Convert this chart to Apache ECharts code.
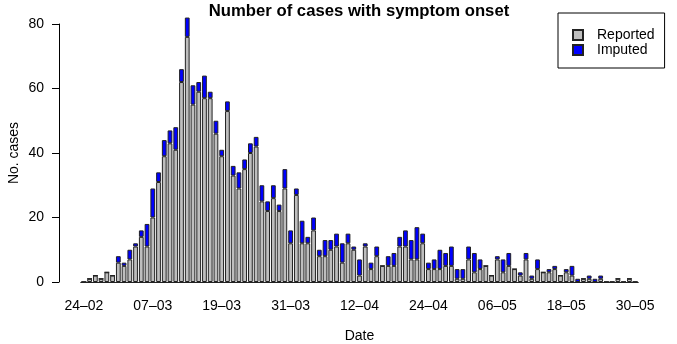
<!DOCTYPE html>
<html>
<head>
<meta charset="utf-8">
<script src="https://cdn.jsdelivr.net/npm/echarts@6/dist/echarts.min.js"></script>
<style>
  html, body { margin: 0; padding: 0; background: #fff; }
  #chart { width: 677px; height: 344px; }
</style>
</head>
<body>
<div id="chart"></div>
<script>
// dates 24-02 .. 30-05 (2020), one bar per day
const startDate = new Date(2020, 1, 24);
const dayCount = 97;
const dates = [];
for (let i = 0; i < dayCount; i++) {
    const d = new Date(startDate.getTime() + i * 86400000);
    dates.push(String(d.getDate()).padStart(2, '0') + '-' + String(d.getMonth() + 1).padStart(2, '0'));
}

// reported cases per day
const reported = [
    0, 1, 2, 1, 3, 2, 6, 5, 7, 11,
    14, 11, 20, 31, 39, 43, 41, 62, 76, 55,
    59, 57, 57, 46, 39, 53, 33, 29, 35, 40,
    42, 25, 22, 26, 22, 29, 12, 27, 12, 12,
    16, 8, 8, 10, 11, 6, 12, 10, 2, 11,
    4, 8, 5, 5, 5, 11, 11, 7, 7, 12,
    4, 4, 4, 5, 5, 1, 1, 7, 3, 4,
    5, 2, 7, 3, 5, 4, 2, 7, 1, 4,
    3, 3, 4, 2, 3, 2, 0, 1, 1, 0,
    1, 0, 0, 1, 0, 1, 0
];

// imputed cases per day (stacked on top)
const imputed = [
    0, 0, 0, 0, 0, 0, 2, 1, 3, 1,
    2, 7, 9, 3, 5, 4, 7, 4, 6, 6,
    3, 7, 2, 4, 2, 3, 3, 5, 3, 3,
    3, 5, 3, 4, 2, 6, 4, 2, 7, 2,
    4, 2, 5, 3, 4, 6, 3, 1, 5, 1,
    2, 3, 0, 3, 4, 3, 5, 6, 10, 3,
    2, 3, 6, 4, 6, 3, 3, 4, 6, 3,
    0, 0, 1, 4, 4, 0, 1, 2, 1, 3,
    0, 1, 1, 0, 1, 3, 1, 0, 1, 1,
    1, 0, 0, 0, 0, 0, 0
];

const yTicks = [0, 20, 40, 60, 80];

const fontFamily = 'Liberation Sans, Arial, sans-serif';

const myChart = echarts.init(document.getElementById('chart'), null, { renderer: 'canvas' });

const option = {
    animation: false,
    backgroundColor: '#fff',
    textStyle: { fontFamily: fontFamily, color: '#000' },
    title: {
        text: 'Number of cases with symptom onset',
        left: 359,
        textAlign: 'center',
        top: 3,
        padding: 0,
        textStyle: { fontSize: 16.7, fontWeight: 'bold', color: '#000', fontFamily: fontFamily }
    },
    legend: {
        orient: 'vertical',
        left: 558,
        top: 13,
        padding: [15, 10, 11, 14],
        itemGap: 1,
        itemWidth: 10,
        itemHeight: 10,
        borderColor: '#000',
        borderWidth: 1,
        borderRadius: 0,
        textStyle: { fontSize: 14, color: '#000', fontFamily: fontFamily, padding: [0, 0, 0, 9] },
        data: [
            { name: 'Reported', icon: 'rect' },
            { name: 'Imputed', icon: 'rect' }
        ]
    },
    grid: {
        left: 81,
        right: 39,
        top: 24,
        bottom: 62,
        outerBoundsMode: 'none'
    },
    xAxis: [
        {
            type: 'category',
            data: dates,
            position: 'bottom',
            offset: 12,
            name: 'Date',
            nameLocation: 'middle',
            nameGap: 35,
            nameMoveOverlap: false,
            nameTextStyle: { fontSize: 14, color: '#000' },
            axisLine: { lineStyle: { color: '#000', width: 1 } },
            axisTick: {
                alignWithLabel: true,
                interval: 5,
                length: 6,
                lineStyle: { color: '#000' }
            },
            axisLabel: {
                interval: 11,
                margin: 5,
                fontSize: 14,
                color: '#000',
                formatter: (v) => v.replace('-', '\u2013')
            },
            splitLine: { show: false }
        },
        {
            // zero line under the bars
            type: 'category',
            data: dates,
            position: 'bottom',
            offset: 0,
            axisLine: { lineStyle: { color: '#222', width: 1 } },
            axisTick: { show: false },
            axisLabel: { show: false },
            splitLine: { show: false }
        }
    ],
    yAxis: {
        type: 'value',
        min: yTicks[0],
        max: yTicks[yTicks.length - 1],
        interval: 20,
        offset: 22,
        name: 'No. cases',
        nameLocation: 'middle',
        nameRotate: 90,
        nameGap: 38,
        nameMoveOverlap: false,
        nameTextStyle: { fontSize: 14, color: '#000' },
        axisLine: { show: true, lineStyle: { color: '#000', width: 1 } },
        axisTick: { show: true, length: 7, lineStyle: { color: '#000' } },
        axisLabel: { fontSize: 14, color: '#000', margin: 15 },
        splitLine: { show: false }
    },
    series: [
        {
            name: 'Reported',
            type: 'bar',
            stack: 'cases',
            data: reported,
            barCategoryGap: '17%',
            clip: false,
            itemStyle: { color: '#bebebe', borderColor: '#222', borderWidth: 1 }
        },
        {
            name: 'Imputed',
            type: 'bar',
            stack: 'cases',
            data: imputed,
            barCategoryGap: '17%',
            clip: false,
            itemStyle: { color: '#0000ff', borderColor: '#222', borderWidth: 1 }
        }
    ]
};

myChart.setOption(option);
</script>
</body>
</html>
